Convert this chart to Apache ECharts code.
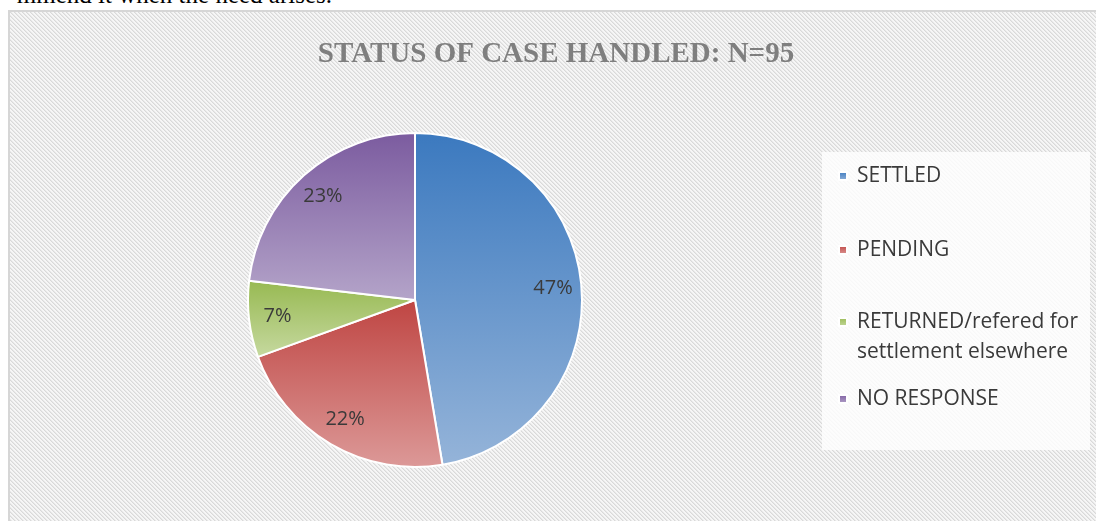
<!DOCTYPE html>
<html>
<head>
<meta charset="utf-8">
<script src="https://cdn.jsdelivr.net/npm/echarts@6/dist/echarts.min.js"></script>
<style>
  html, body { margin: 0; padding: 0; background: #fff; overflow: hidden; }
  .page-text {
    position: absolute; right: 764px; top: -18px;
    font: 25px/25px "Liberation Serif", serif; color: #000; white-space: nowrap;
  }
  .frame {
    position: absolute; left: 8px; top: 10px; width: 1100px; height: 520px;
    border-top: 2px solid #d6d6d6; border-left: 2px solid #d6d6d6;
  }
  #main { position: absolute; left: 0; top: 0; width: 1096px; height: 521px; }
</style>
</head>
<body>
<div class="page-text">mmend it when the need arises.</div>
<div class="frame" id="frame"></div>
<div id="main"></div>
<script>
  const titleText = 'STATUS OF CASE HANDLED: N=95'
  const categories = ['SETTLED', 'PENDING', 'RETURNED/refered for\nsettlement elsewhere', 'NO RESPONSE']
  const counts = [45, 21, 7, 22]
  const topColors = ['#3b79bf', '#bf4542', '#97b951', '#7b5b9f']
  const bottomColors = ['#95b4d9', '#dc9998', '#c6d9a0', '#b4a4c9']

  // diagonal hatch for the chart area
  const tile = document.createElement('canvas')
  tile.width = 4
  tile.height = 4
  const tctx = tile.getContext('2d')
  tctx.fillStyle = '#f6f6f6'
  tctx.fillRect(0, 0, 4, 4)
  for (let i = 0; i < 4; i++) {
    tctx.fillStyle = '#d9d9d9'
    tctx.fillRect(i, i, 1, 1)
    tctx.fillStyle = '#e8e8e8'
    tctx.fillRect((i + 1) % 4, i, 1, 1)
  }
  document.getElementById('frame').style.backgroundImage = 'url(' + tile.toDataURL() + ')'

  const chart = echarts.init(document.getElementById('main'))

  const pieData = categories.map((name, i) => {
    return {
      name: name,
      value: counts[i],
      itemStyle: {
        color: new echarts.graphic.LinearGradient(0, 0, 0, 1, [
          { offset: 0, color: topColors[i] },
          { offset: 1, color: bottomColors[i] }
        ])
      }
    }
  })

  // one legend block per entry; the wrapped entry gets an empty first line
  // so that its marker lines up with the first visible line
  const legendTops = [161, 235, 277, 384]
  const legends = categories.map((name, i) => {
    return {
      orient: 'vertical',
      left: 838,
      top: legendTops[i],
      padding: 0,
      itemWidth: 8,
      itemHeight: 8,
      icon: 'rect',
      selectedMode: false,
      data: [name],
      formatter: n => (n.indexOf('\n') >= 0 ? '\n' + n : n),
      textStyle: {
        fontFamily: 'Open Sans',
        fontSize: 21,
        color: '#3a3a3a',
        lineHeight: 30,
        padding: [0, 0, 0, 5]
      }
    }
  })

  const option = {
    backgroundColor: 'transparent',
    animation: false,
    graphic: [
      {
        type: 'rect',
        shape: { x: 822, y: 152, width: 268, height: 298 },
        style: { fill: 'rgba(255,255,255,0.8)' },
        z: -1
      },
      {
        type: 'text',
        x: 556,
        y: 55,
        style: {
          text: titleText,
          font: 'bold 29px "Liberation Serif"',
          fill: '#7f7f7f',
          align: 'center',
          verticalAlign: 'middle',
          textAlign: 'center',
          textVerticalAlign: 'middle'
        }
      }
    ],
    legend: legends,
    series: [
      {
        type: 'pie',
        center: [415, 300],
        radius: [0, 167],
        startAngle: 90,
        clockwise: true,
        silent: true,
        itemStyle: { borderColor: '#fff', borderWidth: 2 },
        label: { show: false },
        labelLine: { show: false },
        data: pieData
      },
      {
        // label ring, sits on top of the pie
        type: 'pie',
        center: [415, 300],
        radius: [104, 167],
        startAngle: 90,
        clockwise: true,
        silent: true,
        legendHoverLink: false,
        itemStyle: { color: 'rgba(0,0,0,0)' },
        label: {
          show: true,
          position: 'inside',
          fontFamily: 'Open Sans',
          fontSize: 20,
          color: '#3a3a3a',
          formatter: p => Math.round(p.percent) + '%'
        },
        labelLine: { show: false },
        data: categories.map((name, i) => ({ name: name, value: counts[i] }))
      }
    ]
  }
  chart.setOption(option)
</script>
</body>
</html>
